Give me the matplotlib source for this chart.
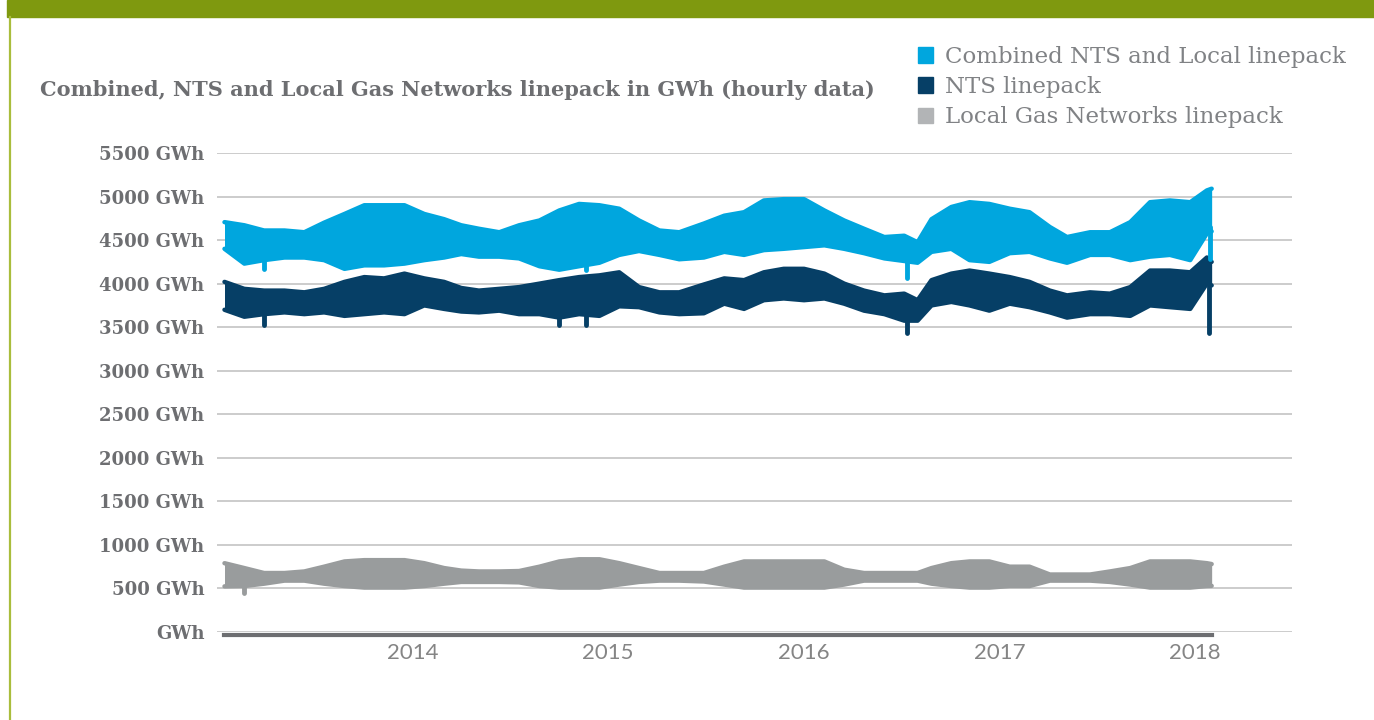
import datetime

import matplotlib
matplotlib.use('Agg')
import matplotlib.pyplot as plt
import matplotlib.dates as mdates
from matplotlib.patches import Patch, Rectangle
from matplotlib.lines import Line2D

# Envelopes of the hourly series, every 5 weeks (GWh)
dates = ['2013-01-15', '2013-02-21', '2013-03-30', '2013-05-07', '2013-06-13', '2013-07-20',
         '2013-08-27', '2013-10-03', '2013-11-09', '2013-12-17', '2014-01-23', '2014-03-01',
         '2014-04-02', '2014-05-05', '2014-06-12', '2014-07-19', '2014-08-26', '2014-10-02',
         '2014-11-08', '2014-12-16', '2015-01-22', '2015-02-28', '2015-04-07', '2015-05-14',
         '2015-06-29', '2015-08-06', '2015-09-12', '2015-10-19', '2015-11-25', '2016-01-02',
         '2016-02-09', '2016-03-17', '2016-04-23', '2016-05-31', '2016-07-07', '2016-08-01',
         '2016-08-27', '2016-10-03', '2016-11-06', '2016-12-13', '2017-01-20', '2017-02-26',
         '2017-04-05', '2017-05-07', '2017-06-19', '2017-07-26', '2017-09-02', '2017-10-09',
         '2017-11-15', '2017-12-23', '2018-01-23', '2018-02-01']

combined_hi = [4706, 4670, 4610, 4610, 4590, 4700, 4800, 4900, 4900, 4900, 4800, 4740,
               4670, 4630, 4590, 4670, 4725, 4840, 4915, 4900, 4860, 4725, 4610, 4590,
               4690, 4780, 4820, 4955, 4970, 4970, 4840, 4725, 4630, 4535, 4550, 4475,
               4740, 4880, 4935, 4915, 4860, 4820, 4650, 4535, 4590, 4590, 4706, 4935,
               4955, 4935, 5070, 5090]
combined_lo = [4400, 4230, 4270, 4300, 4300, 4270, 4170, 4210, 4210, 4230, 4270, 4300,
               4340, 4310, 4310, 4290, 4200, 4160, 4200, 4240, 4330, 4375, 4330, 4280,
               4300, 4365, 4330, 4385, 4400, 4420, 4440, 4400, 4350, 4290, 4260, 4240,
               4365, 4400, 4270, 4250, 4350, 4365, 4290, 4240, 4330, 4330, 4270, 4310,
               4330, 4270, 4575, 4600]

nts_hi = [4020, 3940, 3920, 3920, 3900, 3940, 4020, 4075, 4060, 4115, 4060, 4020,
          3950, 3920, 3940, 3960, 4000, 4040, 4075, 4095, 4130, 3960, 3900, 3900,
          3990, 4060, 4040, 4130, 4170, 4170, 4115, 4000, 3920, 3865, 3885, 3810,
          4040, 4115, 4150, 4115, 4075, 4020, 3920, 3865, 3900, 3885, 3960, 4150,
          4150, 4130, 4300, 4250]
nts_lo = [3700, 3620, 3650, 3670, 3650, 3670, 3630, 3650, 3670, 3650, 3750, 3710,
          3680, 3670, 3690, 3650, 3650, 3610, 3650, 3630, 3740, 3730, 3670, 3650,
          3660, 3770, 3710, 3810, 3830, 3810, 3830, 3770, 3690, 3650, 3575, 3575,
          3750, 3790, 3750, 3690, 3770, 3730, 3670, 3610, 3650, 3650, 3630, 3750,
          3730, 3710, 4000, 3980]

local_hi = [790, 734, 677, 677, 695, 750, 810, 825, 825, 825, 790, 734,
            705, 695, 695, 700, 750, 810, 835, 835, 790, 734, 677, 677,
            677, 750, 810, 810, 810, 810, 810, 715, 677, 677, 677, 677,
            734, 790, 810, 810, 750, 750, 660, 660, 660, 695, 734, 810,
            810, 810, 790, 780]
local_lo = [524, 528, 555, 590, 590, 555, 528, 510, 510, 510, 528, 555,
            575, 575, 575, 570, 528, 510, 510, 510, 545, 575, 590, 590,
            580, 545, 510, 510, 510, 510, 510, 545, 590, 590, 590, 590,
            555, 528, 510, 510, 528, 528, 590, 590, 590, 575, 545, 510,
            510, 510, 528, 530]

# Single-hour spikes that stick out of the envelopes: date, lowest value, value inside the band
nts_spike_dates = ['2013-03-30', '2014-10-02', '2014-11-20', '2016-07-12', '2018-01-27']
nts_spike_lo = [3520, 3520, 3520, 3430, 3430]
nts_spike_hi = [3700, 3700, 3700, 3650, 4050]
comb_spike_dates = ['2013-03-30', '2014-11-20', '2016-07-12', '2018-01-28']
comb_spike_lo = [4170, 4160, 4060, 4280]
comb_spike_hi = [4350, 4350, 4300, 4650]
local_spike_dates = ['2013-02-21']
local_spike_lo = [450]
local_spike_hi = [600]

yticks = [0, 500, 1000, 1500, 2000, 2500, 3000, 3500, 4000, 4500, 5000, 5500]
ytick_labels = ['GWh'] + ['%d GWh' % v for v in yticks[1:]]
year_ticks = [2014, 2015, 2016, 2017, 2018]

series_names = ['Combined NTS and Local linepack', 'NTS linepack', 'Local Gas Networks linepack']
title = 'Combined, NTS and Local Gas Networks linepack in GWh (hourly data)'

C_COMB = '#00a6de'
C_NTS = '#063f66'
C_LOCAL = '#999c9d'
C_LOCAL_KEY = '#b2b4b6'
C_TEXT = '#6d6e71'
C_GREEN = '#7f990f'


def to_dt(s):
    return datetime.datetime.strptime(s, '%Y-%m-%d')


x = [to_dt(d) for d in dates]

fig = plt.figure(figsize=(13.74, 7.2), dpi=100)
ax = fig.add_axes([217 / 1374, 1 - 632 / 720, (1292 - 217) / 1374, (632 - 153) / 720])

# header bar and left rule
fig.patches.append(Rectangle((7 / 1374, 1 - 17 / 720), 1, 17 / 720, transform=fig.transFigure,
                             color=C_GREEN, zorder=0))
fig.add_artist(Line2D([10 / 1374, 10 / 1374], [0, 1 - 17 / 720], transform=fig.transFigure,
                      color='#a9bd3c', lw=1.6))

for hi, lo, col in [(local_hi, local_lo, C_LOCAL), (nts_hi, nts_lo, C_NTS),
                    (combined_hi, combined_lo, C_COMB)]:
    ax.fill_between(x, lo, hi, color=col, lw=0, zorder=3)
    ax.plot(x, hi, color=col, lw=3.2, solid_capstyle='round', solid_joinstyle='round', zorder=3)
    ax.plot(x, lo, color=col, lw=3.2, solid_capstyle='round', solid_joinstyle='round', zorder=3)

for sd, slo, shi, col in [(nts_spike_dates, nts_spike_lo, nts_spike_hi, C_NTS),
                          (comb_spike_dates, comb_spike_lo, comb_spike_hi, C_COMB),
                          (local_spike_dates, local_spike_lo, local_spike_hi, C_LOCAL)]:
    ax.vlines([to_dt(d) for d in sd], slo, shi, color=col, lw=3.5, zorder=3, capstyle='round')

# zero series along the bottom
ax.plot([x[0], x[-1]], [-30, -30], color='#6d6e71', lw=3, zorder=4, clip_on=False)

ax.set_xlim(datetime.datetime(2013, 1, 1), datetime.datetime(2018, 7, 1))
ax.set_ylim(0, 5500)
ax.set_yticks(yticks)
ax.set_yticklabels(ytick_labels)
ax.set_xticks([datetime.datetime(y, 1, 1) for y in year_ticks])
ax.xaxis.set_major_formatter(mdates.DateFormatter('%Y'))

ax.grid(axis='y', color='#c8c8c8', lw=1.3, zorder=0)
ax.set_axisbelow(True)
for s in ax.spines.values():
    s.set_visible(False)
ax.tick_params(axis='both', length=0)
ax.tick_params(axis='y', pad=9)
ax.tick_params(axis='x', pad=8)
for lab in ax.get_yticklabels():
    lab.set_fontfamily('DejaVu Serif')
    lab.set_fontweight('bold')
    lab.set_fontsize(13)
    lab.set_color(C_TEXT)
for lab in ax.get_xticklabels():
    lab.set_fontfamily('Lato')
    lab.set_fontsize(16)
    lab.set_color('#858585')

fig.text(40 / 1374, 1 - 90 / 720, title, fontfamily='DejaVu Serif', fontweight='bold',
         fontsize=15, color=C_TEXT, va='center', ha='left')

handles = [Patch(color=C_COMB), Patch(color=C_NTS), Patch(color=C_LOCAL_KEY)]
leg = fig.legend(handles, series_names, loc='upper left', bbox_to_anchor=(918 / 1374, 1 - 46 / 720),
                 frameon=False, handlelength=0.66, handleheight=0.66, handletextpad=0.5,
                 labelspacing=0.36, borderpad=0, borderaxespad=0,
                 prop={'family': 'DejaVu Serif', 'size': 16.5})
for t in leg.get_texts():
    t.set_color('#808285')

fig.savefig('out.png', dpi=100)
plt.close(fig)
